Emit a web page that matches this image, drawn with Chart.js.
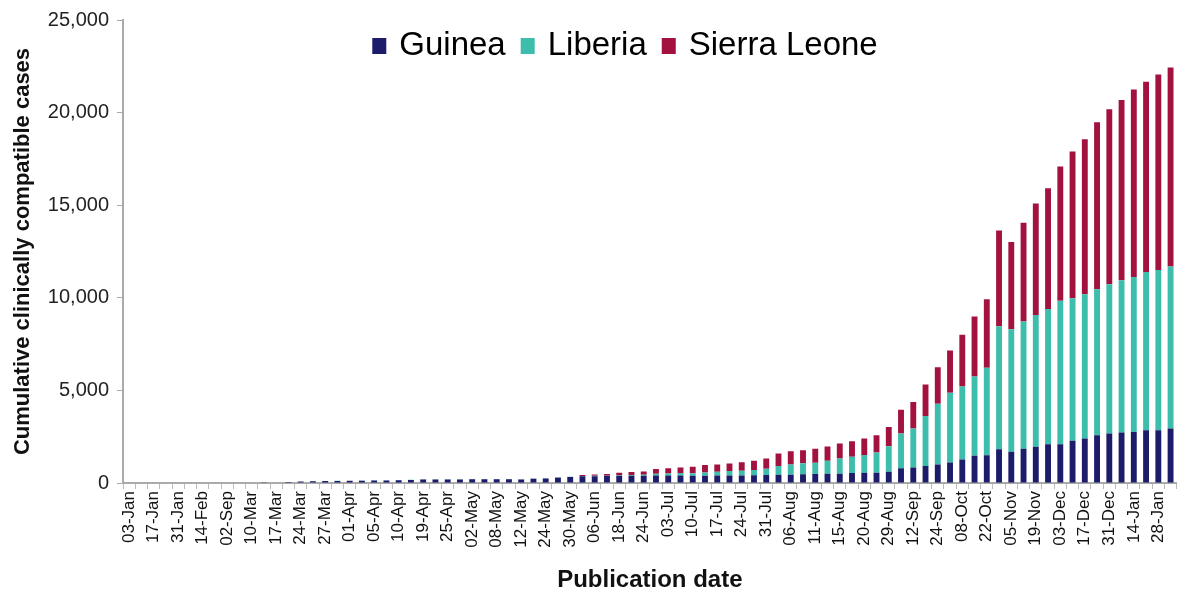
<!DOCTYPE html>
<html lang="en">
<head>
    <meta charset="UTF-8">
    <title>Cumulative clinically compatible cases</title>
    <script src="https://cdn.jsdelivr.net/npm/chart.js"></script>
    <style>
        body { margin: 0; background: #fff; }
        #wrap { width: 1193px; height: 596px; position: relative; }
    </style>
</head>
<body>
    <div id="wrap"><canvas id="casesChart"></canvas></div>

    <script>
        // labels shown under every second bar
        const dateLabels = ['03-Jan', '17-Jan', '31-Jan', '14-Feb', '02-Sep', '10-Mar', '17-Mar', '24-Mar',
            '27-Mar', '01-Apr', '05-Apr', '10-Apr', '19-Apr', '25-Apr', '02-May', '08-May', '12-May',
            '24-May', '30-May', '06-Jun', '18-Jun', '24-Jun', '03-Jul', '10-Jul', '17-Jul', '24-Jul',
            '31-Jul', '06-Aug', '11-Aug', '15-Aug', '20-Aug', '29-Aug', '12-Sep', '24-Sep', '08-Oct',
            '22-Oct', '05-Nov', '19-Nov', '03-Dec', '17-Dec', '31-Dec', '14-Jan', '28-Jan'];

        const guinea = [0, 0, 0, 0, 0, 0, 0, 0, 0, 0,
            0, 15, 30, 49, 80, 95, 105, 108, 115, 125,
            135, 140, 150, 165, 185, 190, 195, 195, 200, 200,
            205, 205, 195, 225, 240, 290, 320, 360, 370, 375,
            390, 390, 390, 400, 405, 405, 390, 395, 400, 400,
            410, 420, 430, 440, 450, 470, 485, 495, 505, 540,
            556, 560, 610, 790, 842, 914, 1003, 1111, 1272, 1469,
            1505, 1828, 1684, 1846, 1953, 2097, 2097, 2276, 2401, 2580,
            2670, 2724, 2760, 2849, 2849, 2939];

        const liberia = [0, 0, 0, 0, 0, 0, 0, 0, 0, 0,
            0, 0, 0, 0, 5, 8, 8, 10, 10, 10,
            12, 12, 12, 12, 13, 13, 13, 13, 13, 13,
            13, 13, 12, 12, 12, 12, 12, 15, 15, 20,
            35, 40, 50, 95, 110, 130, 140, 175, 205, 245,
            255, 280, 340, 475, 555, 590, 610, 705, 820, 875,
            950, 1090, 1380, 1880, 2097, 2706, 3280, 3763, 3943, 4283,
            4713, 6630, 6613, 6881, 7115, 7293, 7741, 7705, 7796, 7885,
            8064, 8225, 8368, 8548, 8656, 8745];

        const sierraLeone = [0, 0, 0, 0, 0, 0, 0, 0, 0, 0,
            0, 0, 0, 0, 0, 0, 0, 0, 0, 0,
            0, 0, 0, 0, 0, 0, 0, 0, 0, 0,
            0, 0, 0, 0, 0, 5, 10, 55, 80, 90,
            130, 160, 185, 255, 275, 305, 350, 400, 400, 412,
            450, 500, 555, 680, 715, 715, 750, 770, 805, 845,
            900, 930, 1040, 1290, 1433, 1702, 1971, 2276, 2795, 3244,
            3710, 5179, 4713, 5322, 6021, 6523, 7258, 7921, 8368, 9014,
            9444, 9731, 10125, 10268, 10555, 10752];

        const yTicks = [0, 5000, 10000, 15000, 20000, 25000];

        // one category per bar, the unlabeled ones get an empty string
        const categories = guinea.map((v, i) => i % 2 === 0 ? (dateLabels[i / 2] || '') : '');

        const font = 'Liberation Sans, Arial, sans-serif';

        // legend sits inside the plot, on one row near the top
        const insideLegend = {
            id: 'insideLegend',
            afterDraw(chart) {
                const ctx = chart.ctx;
                const box = 14, gapText = 13, gapItem = 15;
                ctx.save();
                ctx.font = '33px ' + font;
                ctx.textBaseline = 'middle';
                const items = chart.data.datasets.map(ds => ({
                    text: ds.label, color: ds.backgroundColor, w: ctx.measureText(ds.label).width
                }));
                let total = 0;
                items.forEach((it, i) => { total += box + gapText + it.w + (i < items.length - 1 ? gapItem : 0); });
                let x = 625 - total / 2;
                const y = 45;
                items.forEach(it => {
                    ctx.fillStyle = it.color;
                    ctx.fillRect(x, y - 7, box, 16);
                    x += box + gapText;
                    ctx.fillStyle = '#000';
                    ctx.fillText(it.text, x, y + 1);
                    x += it.w + gapItem;
                });
                ctx.restore();
            }
        };

        new Chart(document.getElementById('casesChart'), {
            type: 'bar',
            data: {
                labels: categories,
                datasets: [
                    { label: 'Guinea', data: guinea, backgroundColor: '#1c1c6a' },
                    { label: 'Liberia', data: liberia, backgroundColor: '#3dbdac' },
                    { label: 'Sierra Leone', data: sierraLeone, backgroundColor: '#a3113f' }
                ]
            },
            plugins: [insideLegend],
            options: {
                responsive: true,
                maintainAspectRatio: false,
                animation: false,
                layout: { padding: { top: 18, right: 5, left: 0, bottom: 0 } },
                datasets: { bar: { barPercentage: 0.48, categoryPercentage: 1 } },
                plugins: {
                    legend: { display: false },
                    tooltip: { enabled: false }
                },
                scales: {
                    x: {
                        stacked: true,
                        afterFit: axis => { axis.height = 113; },
                        grid: { drawOnChartArea: false, color: '#bbb', tickLength: 6 },
                        border: { color: '#aaa', width: 2 },
                        ticks: {
                            autoSkip: false,
                            maxRotation: 90,
                            minRotation: 90,
                            color: '#111',
                            font: { family: font, size: 17 },
                            padding: 2
                        },
                        title: {
                            display: true,
                            text: 'Publication date',
                            color: '#111',
                            font: { family: font, size: 24, weight: 'bold' },
                            padding: { top: 0, bottom: 1 }
                        }
                    },
                    y: {
                        stacked: true,
                        min: 0,
                        max: 25000,
                        afterBuildTicks: axis => { axis.ticks = yTicks.map(v => ({ value: v })); },
                        afterFit: axis => { axis.width = 123; },
                        grid: { drawOnChartArea: false, color: '#aaa', tickLength: 6 },
                        border: { color: '#aaa', width: 2 },
                        ticks: {
                            color: '#222',
                            font: { family: font, size: 20 },
                            padding: 8
                        },
                        title: {
                            display: true,
                            text: 'Cumulative clinically compatible cases',
                            color: '#111',
                            font: { family: font, size: 22, weight: 'bold' },
                            padding: { top: 10, bottom: 0 }
                        }
                    }
                }
            }
        });
    </script>
</body>
</html>
